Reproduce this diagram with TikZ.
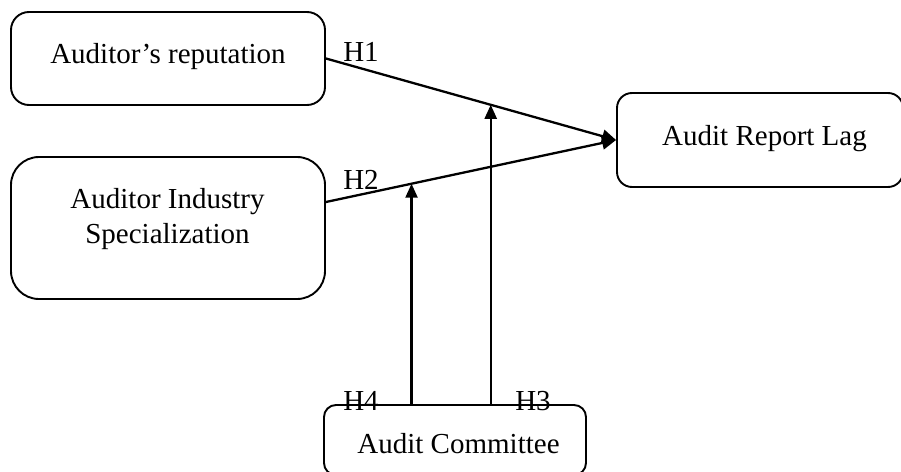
\documentclass[tikz,border=0pt]{standalone}
\usepackage{fontspec}
\setmainfont{Liberation Serif}
\usetikzlibrary{arrows.meta,calc}
\begin{document}
\begin{tikzpicture}[x=1pt,y=-1pt,
  box/.style={draw=black, line width=1.9pt, inner sep=0pt},
  lbl/.style={inner sep=0pt, anchor=base, font=\fontsize{29}{34}\selectfont},
  conn/.style={line width=2.3pt, -{Triangle[length=14pt,width=13pt]}},
  modl/.style={line width=2.3pt, -{Triangle[length=14pt,width=12pt]}}]
\useasboundingbox (0,0) rectangle (901,471);
\clip (0,0) rectangle (901,471);
% boxes
\node[box, rounded corners=18pt, minimum width=314pt, minimum height=93pt] (rep) at (168,58.5) {};
\node[box, rounded corners=28pt, minimum width=314pt, minimum height=142pt] (spec) at (168,228) {};
\node[box, rounded corners=15pt, minimum width=286pt, minimum height=94pt] (arl) at (760,140) {};
\node[box, rounded corners=12pt, minimum width=262pt, minimum height=70pt] (ac) at (455,440) {};
% texts
\node[lbl] (reptxt) at (168,63) {Auditor’s reputation};
\node[lbl] (spectxt1) at (167.5,208) {Auditor Industry};
\node[lbl] (spectxt2) at (167.5,243) {Specialization};
\node[lbl] (arltxt) at (764.5,145) {Audit Report Lag};
\node[lbl] (actxt) at (458.5,453) {Audit Committee};
% hypothesis labels
\node[lbl] (h1) at (361,61) {H1};
\node[lbl] (h2) at (361,189) {H2};
\node[lbl] (h4) at (361,410) {H4};
\node[lbl] (h3) at (533,410) {H3};
% connectors
\coordinate (s2) at ([yshift=26pt]spec.east);
\draw[conn] (rep.east) -- (arl.west);
\draw[conn] (s2) -- (arl.west);
\coordinate (m1) at ($(rep.east)!0.568!(arl.west)$);
\coordinate (m2) at ($(s2)!0.295!(arl.west)$);
\coordinate (b1) at (m1 |- ac.north);
\coordinate (b2) at (m2 |- ac.north);
\draw[modl] (b1) -- (m1);
\draw[modl] (b2) -- (m2);
\end{tikzpicture}
\end{document}
